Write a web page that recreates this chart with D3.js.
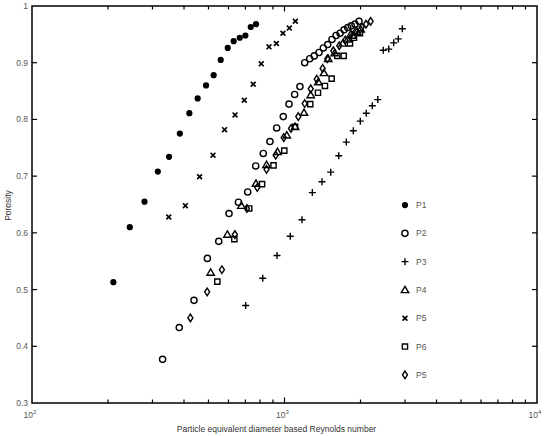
<!DOCTYPE html>
<html>
<head>
<meta charset="utf-8">
<script src="https://cdn.jsdelivr.net/npm/d3@7"></script>
<style>
  body { margin: 0; background: #fff; }
  text { font-family: "Liberation Sans", Arial, sans-serif; }
</style>
</head>
<body>
<svg id="chart" width="550" height="436"></svg>
<script>
// series values (Reynolds number, porosity)
var p1Re = [210, 244, 279, 315, 349, 385, 420, 453, 489, 524, 559, 596, 629, 665, 700, 735, 771];
var p1Por = [0.513, 0.610, 0.655, 0.708, 0.734, 0.775, 0.811, 0.837, 0.860, 0.878, 0.905, 0.926, 0.938, 0.944, 0.948, 0.963, 0.968];

var p2Re = [329, 383, 438, 495, 549, 603, 657, 715, 769, 824, 876, 931, 989, 1042, 1097, 1151, 1202, 1258, 1312, 1370, 1425, 1483, 1542, 1600, 1660, 1722, 1780, 1839, 1902, 1973];
var p2Por = [0.377, 0.433, 0.481, 0.555, 0.585, 0.634, 0.654, 0.672, 0.718, 0.740, 0.761, 0.785, 0.805, 0.827, 0.844, 0.858, 0.900, 0.907, 0.912, 0.918, 0.926, 0.932, 0.941, 0.948, 0.952, 0.958, 0.962, 0.965, 0.968, 0.973];

var p3Re = [702, 820, 934, 1054, 1173, 1289, 1408, 1524, 1640, 1757, 1873, 1996, 2108, 2227, 2342, 2461, 2587, 2707, 2823, 2928];
var p3Por = [0.472, 0.520, 0.560, 0.594, 0.623, 0.671, 0.690, 0.707, 0.736, 0.760, 0.780, 0.797, 0.811, 0.824, 0.835, 0.922, 0.924, 0.935, 0.942, 0.960];

var p4Re = [510, 594, 675, 771, 849, 938, 1021, 1101, 1195, 1270, 1361, 1433, 1490, 1580, 1700, 1780, 1856, 1936, 2003];
var p4Por = [0.530, 0.597, 0.648, 0.687, 0.720, 0.743, 0.772, 0.787, 0.812, 0.843, 0.866, 0.882, 0.907, 0.917, 0.934, 0.941, 0.948, 0.955, 0.959];

var p5Re = [348, 405, 461, 521, 579, 637, 693, 752, 809, 868, 928, 986, 1045, 1104];
var p5Por = [0.628, 0.648, 0.699, 0.737, 0.782, 0.808, 0.834, 0.862, 0.898, 0.928, 0.934, 0.952, 0.961, 0.973];

var p6Re = [542, 633, 725, 815, 905, 998, 1101, 1265, 1357, 1446, 1537, 1618, 1716, 1817, 1884, 1990];
var p6Por = [0.514, 0.589, 0.643, 0.686, 0.719, 0.745, 0.787, 0.827, 0.847, 0.859, 0.872, 0.912, 0.912, 0.934, 0.944, 0.952];

var p7Re = [424, 494, 565, 636, 710, 780, 849, 923, 993, 1061, 1134, 1202, 1270, 1342, 1416, 1478, 1561, 1648, 1741, 1834, 1920, 2022, 2103, 2194];
var p7Por = [0.450, 0.496, 0.535, 0.597, 0.643, 0.680, 0.712, 0.737, 0.768, 0.784, 0.805, 0.828, 0.854, 0.871, 0.890, 0.907, 0.921, 0.930, 0.940, 0.950, 0.956, 0.963, 0.968, 0.973];

var seriesNames = ["P1", "P2", "P3", "P4", "P5", "P6", "P5"];
var yTicks = [0.3, 0.4, 0.5, 0.6, 0.7, 0.8, 0.9, 1];
var xMajor = [100, 1000, 10000];

var series = [
    {name: seriesNames[0], re: p1Re, por: p1Por, shape: "dot"},
    {name: seriesNames[1], re: p2Re, por: p2Por, shape: "circle"},
    {name: seriesNames[2], re: p3Re, por: p3Por, shape: "plus"},
    {name: seriesNames[3], re: p4Re, por: p4Por, shape: "triangle"},
    {name: seriesNames[4], re: p5Re, por: p5Por, shape: "cross"},
    {name: seriesNames[5], re: p6Re, por: p6Por, shape: "square"},
    {name: seriesNames[6], re: p7Re, por: p7Por, shape: "diamond"}
];

var margin = {top: 6, right: 13, bottom: 33, left: 32},
    width = 550 - margin.left - margin.right,
    height = 436 - margin.top - margin.bottom;

var svg = d3.select("#chart"),
    g = svg.append("g").attr("transform", "translate(" + margin.left + "," + margin.top + ")");

var x = d3.scaleLog().domain([100, 10000]).range([0, width]);
var y = d3.scaleLinear().domain([0.3, 1]).range([height, 0]);

var shapes = {
    plus: "M-3.5,0H3.5M0,-3.5V3.5",
    cross: "M-2.4,-2.4L2.4,2.4M-2.4,2.4L2.4,-2.4",
    triangle: "M0,-3.6L3.7,2.7L-3.7,2.7Z",
    square: "M-2.6,-2.6H2.6V2.6H-2.6Z",
    diamond: "M0,-3.8L2.5,0L0,3.8L-2.5,0Z"
};

function drawMarker(sel, shape) {
    if (shape == "dot") {
        sel.append("circle").attr("r", 3.1).attr("fill", "#000");
    } else if (shape == "circle") {
        sel.append("circle").attr("r", 3.1).attr("fill", "none")
            .attr("stroke", "#000").attr("stroke-width", 1.4);
    } else {
        sel.append("path").attr("d", shapes[shape]).attr("fill", "none")
            .attr("stroke", "#000")
            .attr("stroke-width", shape == "cross" ? 1.7 : 1.4);
    }
}

// ticks: minor on the log axis, drawn inward on all four sides
var xMinor = x.ticks().filter(function(d) { return xMajor.indexOf(d) < 0; });
var tickColor = "#000";

var ticks = g.append("g").attr("class", "ticks").attr("stroke", tickColor).attr("stroke-width", 1.2);
[[height, -1], [0, 1]].forEach(function(side) {
    ticks.selectAll(null).data(xMinor).enter().append("line")
        .attr("x1", function(d) { return x(d); }).attr("x2", function(d) { return x(d); })
        .attr("y1", side[0]).attr("y2", side[0] + side[1] * 3.5);
    ticks.selectAll(null).data([1000]).enter().append("line")
        .attr("x1", function(d) { return x(d); }).attr("x2", function(d) { return x(d); })
        .attr("y1", side[0]).attr("y2", side[0] + side[1] * 5.5);
});
[[0, 1], [width, -1]].forEach(function(side) {
    ticks.selectAll(null).data(yTicks.slice(1, -1)).enter().append("line")
        .attr("x1", side[0]).attr("x2", side[0] + side[1] * 5)
        .attr("y1", function(d) { return y(d); }).attr("y2", function(d) { return y(d); });
});

// frame
g.append("rect")
    .attr("width", width).attr("height", height)
    .attr("fill", "none").attr("stroke", "#000").attr("stroke-width", 1.5);

// tick labels
g.selectAll(".ylab").data(yTicks).enter().append("text")
    .attr("class", "ylab")
    .attr("x", -4).attr("y", function(d) { return y(d); })
    .attr("dy", "0.35em").attr("text-anchor", "end")
    .attr("font-size", 8.5).attr("fill", "#555")
    .text(function(d) { return d == 1 ? "1" : d3.format(".1f")(d); });

var xl = g.selectAll(".xlab").data(xMajor).enter().append("text")
    .attr("class", "xlab")
    .attr("x", function(d) { return x(d) - 2; }).attr("y", height + 15)
    .attr("text-anchor", "middle")
    .attr("font-size", 8.5).attr("fill", "#555");
xl.append("tspan").text("10");
xl.append("tspan").attr("dy", -4).attr("font-size", 6)
    .text(function(d) { return Math.round(Math.log10(d)); });

// axis titles
g.append("text")
    .attr("x", width / 2 - 8).attr("y", height + 29)
    .attr("text-anchor", "middle").attr("font-size", 8.5).attr("fill", "#333")
    .text("Particle equivalent diameter based Reynolds number");

g.append("text")
    .attr("transform", "translate(-21," + (height / 2 + 1) + ") rotate(-90)")
    .attr("text-anchor", "middle").attr("font-size", 8.5).attr("fill", "#333")
    .text("Porosity");

// points
series.forEach(function(s) {
    var pts = g.append("g").selectAll("g")
        .data(d3.zip(s.re, s.por))
        .enter().append("g")
        .attr("transform", function(d) { return "translate(" + x(d[0]) + "," + y(d[1]) + ")"; });
    drawMarker(pts, s.shape);
});

// legend
var legend = g.append("g").attr("transform", "translate(" + x(3000) + "," + y(0.649) + ")");
var items = legend.selectAll("g").data(series).enter().append("g")
    .attr("transform", function(d, i) { return "translate(0," + (i * 28.3) + ")"; });
items.each(function(d) { drawMarker(d3.select(this), d.shape); });
items.append("text")
    .attr("x", 11).attr("dy", "0.35em")
    .attr("font-size", 8.5).attr("fill", "#555")
    .text(function(d) { return d.name; });
</script>
</body>
</html>
